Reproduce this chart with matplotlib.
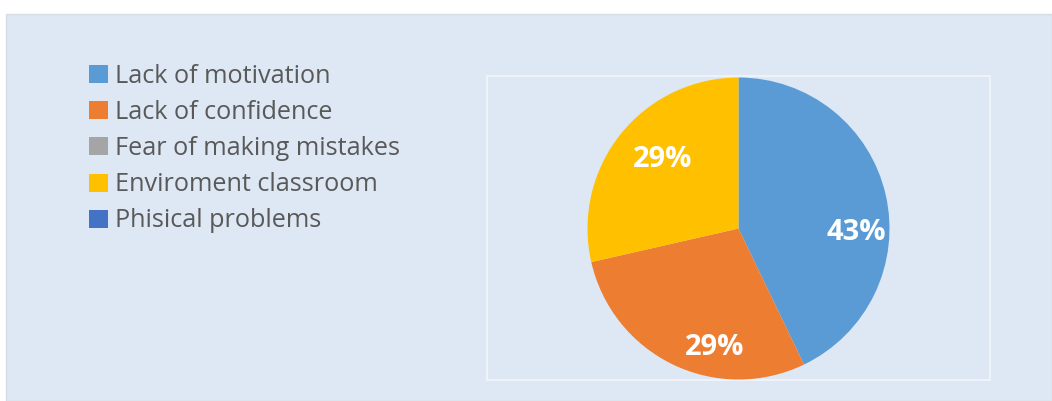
import matplotlib
matplotlib.use("Agg")
import matplotlib.pyplot as plt
from matplotlib.patches import Rectangle

plt.rcParams["font.family"] = ["Open Sans", "DejaVu Sans"]

# Responses per cause
causes = [
    "Lack of motivation",
    "Lack of confidence",
    "Fear of making mistakes",
    "Enviroment classroom",
    "Phisical problems",
]
counts = [3, 2, 0, 2, 0]
colors = ["#5B9BD5", "#ED7D31", "#A5A5A5", "#FFC000", "#4472C4"]

# data label anchors (in units of pie radius), Excel "best fit" style
label_xy = {
    "Lack of motivation": (0.78, -0.025),
    "Lack of confidence": (-0.16, -0.79),
    "Enviroment classroom": (-0.50, 0.455),
}

W, H = 1052, 401
bg = "#DDE8F4"
fig = plt.figure(figsize=(W / 100, H / 100), dpi=100, facecolor="white")

# chart area background and plot-area frame (pixel coords from top-left)
def px_rect(x0, y0, x1, y1, **kw):
    return Rectangle((x0 / W, 1 - y1 / H), (x1 - x0) / W, (y1 - y0) / H,
                     transform=fig.transFigure, **kw)

fig.patches.append(px_rect(6, 14, W, H, facecolor=bg, edgecolor="#D6DCE4", lw=1, zorder=-10))
fig.patches.append(px_rect(487, 76, 990, 380, facecolor="none", edgecolor="#EEF3FA", lw=1.5, zorder=-5))

# pie axes: center (738.5, 228.5), radius 151 px
cx, cy, r = 738.5, 228.5, 151
ax = fig.add_axes([(cx - r) / W, 1 - (cy + r) / H, 2 * r / W, 2 * r / H])
ax.set_facecolor("none")


def pct(v):
    return f"{v:.0f}%" if v > 0 else ""


wedges, texts, autotexts = ax.pie(
    counts,
    colors=colors,
    startangle=90,
    counterclock=False,
    autopct=pct,
    pctdistance=0.76,
    radius=1.0,
    wedgeprops=dict(linewidth=0),
    textprops=dict(color="white", fontsize=21, fontweight="bold"),
)
for name, t in zip(causes, autotexts):
    if name in label_xy:
        t.set_position(label_xy[name])

ax.set_xlim(-1, 1)
ax.set_ylim(-1, 1)
ax.set_aspect("auto")
ax.axis("off")

leg = fig.legend(
    wedges,
    causes,
    loc="upper left",
    bbox_to_anchor=(89 / W, 1 - 64 / H),
    frameon=False,
    fontsize=18.2,
    handlelength=0.75,
    handleheight=0.72,
    handletextpad=0.28,
    labelspacing=0.44,
    borderpad=0,
    borderaxespad=0,
)
for t in leg.get_texts():
    t.set_color("#595959")

fig.savefig("out.png", dpi=100, facecolor="white")
